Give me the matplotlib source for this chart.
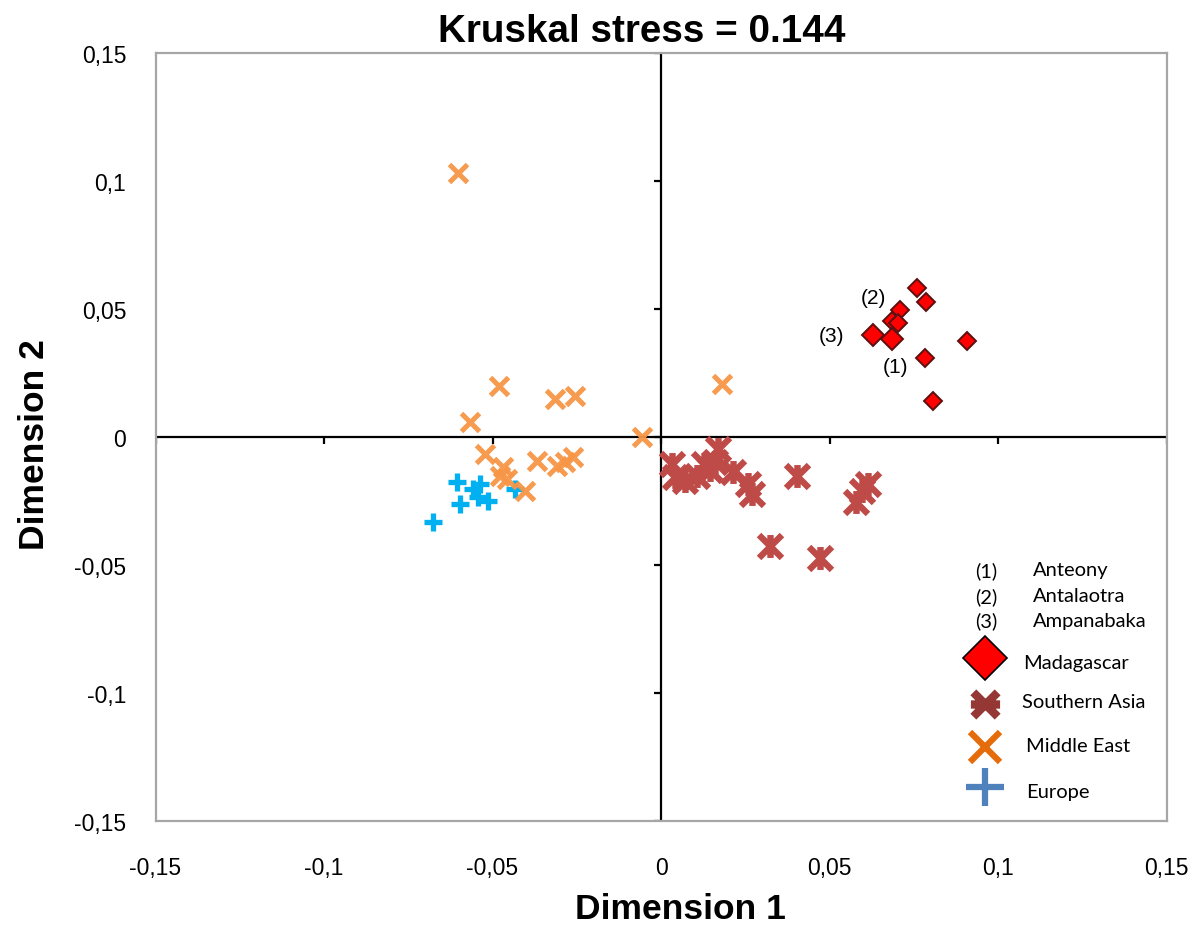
import matplotlib
matplotlib.use("Agg")
import matplotlib.pyplot as plt
from matplotlib.path import Path
import numpy as np

# ---------------- data ----------------
mad_x = [0.0759, 0.0786, 0.0709, 0.0685, 0.0704, 0.0907, 0.0783, 0.0808]
mad_y = [0.0581, 0.0529, 0.0497, 0.0454, 0.0444, 0.0376, 0.0309, 0.0142]
mad_big_x = [0.0630, 0.0685]
mad_big_y = [0.0398, 0.0383]

sa_x = [0.0032, 0.0042, 0.0071, 0.0106, 0.0126, 0.0145, 0.0170, 0.0160, 0.0215,
        0.0259, 0.0269, 0.0403, 0.0323, 0.0472, 0.0615, 0.0579, 0.0596]
sa_y = [-0.0105, -0.0157, -0.0171, -0.0151, -0.0105, -0.0130, -0.0047, -0.0099, -0.0138,
        -0.0184, -0.0223, -0.0151, -0.0425, -0.0474, -0.0184, -0.0255, -0.0211]

me_x = [-0.0602, -0.0480, -0.0567, -0.0315, -0.0255, -0.0057, 0.0181, -0.0522,
        -0.0468, -0.0478, -0.0458, -0.0404, -0.0369, -0.0310, -0.0285, -0.0260]
me_y = [0.1031, 0.0200, 0.0057, 0.0148, 0.0161, -0.0001, 0.0207, -0.0066,
        -0.0118, -0.0151, -0.0164, -0.0210, -0.0093, -0.0112, -0.0099, -0.0079]

eu_x = [-0.0606, -0.0676, -0.0596, -0.0557, -0.0537, -0.0542, -0.0512, -0.0433]
eu_y = [-0.0177, -0.0333, -0.0262, -0.0203, -0.0184, -0.0236, -0.0249, -0.0203]

ticks = [-0.15, -0.1, -0.05, 0, 0.05, 0.1, 0.15]
tick_labels = ["-0,15", "-0,1", "-0,05", "0", "0,05", "0,1", "0,15"]

pop_labels = ["(1)", "(2)", "(3)"]
pop_names = ["Anteony", "Antalaotra", "Ampanabaka"]
groups = ["Madagascar", "Southern Asia", "Middle East", "Europe"]

title = "Kruskal stress = 0.144"
xlabel = "Dimension 1"
ylabel = "Dimension 2"

# ---------------- style ----------------
c_mad = "#FF0000"
c_mad_edge = "#5C1010"
c_sa = "#BE4B48"
c_me = "#F79646"
c_eu = "#00B0F0"
c_sa_leg = "#953735"
c_me_leg = "#E46C0A"
c_eu_leg = "#4F81BD"

star_v = Path([(-1, -1), (1, 1), (-1, 1), (1, -1), (0, -1), (0, 1)],
              [Path.MOVETO, Path.LINETO, Path.MOVETO, Path.LINETO, Path.MOVETO, Path.LINETO])
star_h = Path([(-1, -1), (1, 1), (-1, 1), (1, -1), (-1.2, 0), (1.2, 0)],
              [Path.MOVETO, Path.LINETO, Path.MOVETO, Path.LINETO, Path.MOVETO, Path.LINETO])

fig = plt.figure(figsize=(12.02, 9.28), dpi=100)
ax = fig.add_axes([0.1294, 0.1142, 0.8411, 0.8276])
ax.set_xlim(-0.15, 0.15)
ax.set_ylim(-0.15, 0.15)
for s in ax.spines.values():
    s.set_color("#A6A6A6")
    s.set_linewidth(1.6)
ax.set_xticks(ticks)
ax.set_xticklabels(tick_labels, fontfamily="Liberation Sans", fontsize=16.5)
ax.set_yticks(ticks)
ax.set_yticklabels(tick_labels, fontfamily="Liberation Sans", fontsize=16.5)
ax.tick_params(axis="both", length=0)
ax.tick_params(axis="x", pad=25)
ax.tick_params(axis="y", pad=21)

# zero axes with tick marks
ax.axhline(0, color="black", lw=1.6, zorder=1)
ax.axvline(0, color="black", lw=1.6, zorder=1)
ax.plot(ticks, np.zeros(len(ticks)), ls="", marker=3, ms=5, mew=1.6, color="black", zorder=1)
ax.plot(np.zeros(len(ticks)), ticks, ls="", marker=0, ms=5, mew=1.6, color="black", zorder=1)

# data
ax.plot(eu_x, eu_y, ls="", marker="+", ms=13, mew=3.8, color=c_eu, zorder=3)
ax.plot(me_x, me_y, ls="", marker="x", ms=13.5, mew=3.6, color=c_me, alpha=0.95, zorder=4)
ax.plot(sa_x, sa_y, ls="", marker=star_v, ms=16.5, mew=4.6, color=c_sa, zorder=4)
ax.plot(mad_x, mad_y, ls="", marker="D", ms=9.5, mfc=c_mad, mec=c_mad_edge, mew=1.4, zorder=5)
ax.plot(mad_big_x, mad_big_y, ls="", marker="D", ms=11.5, mfc=c_mad, mec=c_mad_edge, mew=1.4, zorder=5)

# population labels near diamonds
ann_pts = [(mad_x[6], mad_y[6]), (mad_x[2], mad_y[2]), (mad_big_x[0], mad_big_y[0])]
ann_off = [(-21, -6), (-19, 8.5), (-30, 0)]
for lab, p, off in zip(pop_labels, ann_pts, ann_off):
    ax.annotate(lab, p, xytext=off, textcoords="offset points", ha="center", va="center",
                fontsize=15, fontfamily="Liberation Sans")

# legend (hand-drawn like the original)
lf = "Lato"
row_y = [0.327, 0.293, 0.261]
for lab, name, yy in zip(pop_labels, pop_names, row_y):
    ax.text(0.822, yy, lab, transform=ax.transAxes, ha="center", va="center", fontsize=14.5, fontfamily=lf)
    ax.text(0.868, yy, name, transform=ax.transAxes, ha="left", va="center", fontsize=14.5, fontfamily=lf)

mk_y = [0.212, 0.152, 0.0964, 0.0443]
tx_x = [0.858, 0.857, 0.861, 0.861]
tx_y = [0.207, 0.155, 0.098, 0.039]
ax.plot([0.8205], [mk_y[0]], transform=ax.transAxes, marker="D", ms=22, mfc=c_mad, mec="black", mew=1.2, clip_on=False)
ax.plot([0.8205], [mk_y[1]], transform=ax.transAxes, marker=star_h, ms=21, mew=6, color=c_sa_leg, clip_on=False)
ax.plot([0.8205], [mk_y[2]], transform=ax.transAxes, marker="x", ms=22, mew=4.5, color=c_me_leg, clip_on=False)
ax.plot([0.8205], [mk_y[3]], transform=ax.transAxes, marker="+", ms=28, mew=4.5, color=c_eu_leg, clip_on=False)
for g, xx, yy in zip(groups, tx_x, tx_y):
    ax.text(xx, yy, g, transform=ax.transAxes, ha="left", va="center", fontsize=14.5, fontfamily=lf)

fig.text(0.5335, 0.9547, title, ha="center", va="baseline", fontsize=27.8, fontweight="bold",
         fontfamily="Liberation Sans")
ax.set_xlabel(xlabel, fontsize=25.5, fontweight="bold", fontfamily="Liberation Sans")
ax.set_ylabel(ylabel, fontsize=25.5, fontweight="bold", fontfamily="Liberation Sans")
ax.xaxis.set_label_coords(0.519, -0.0924)
ax.yaxis.set_label_coords(-0.103, 0.491)

fig.savefig("out.png", dpi=100)
